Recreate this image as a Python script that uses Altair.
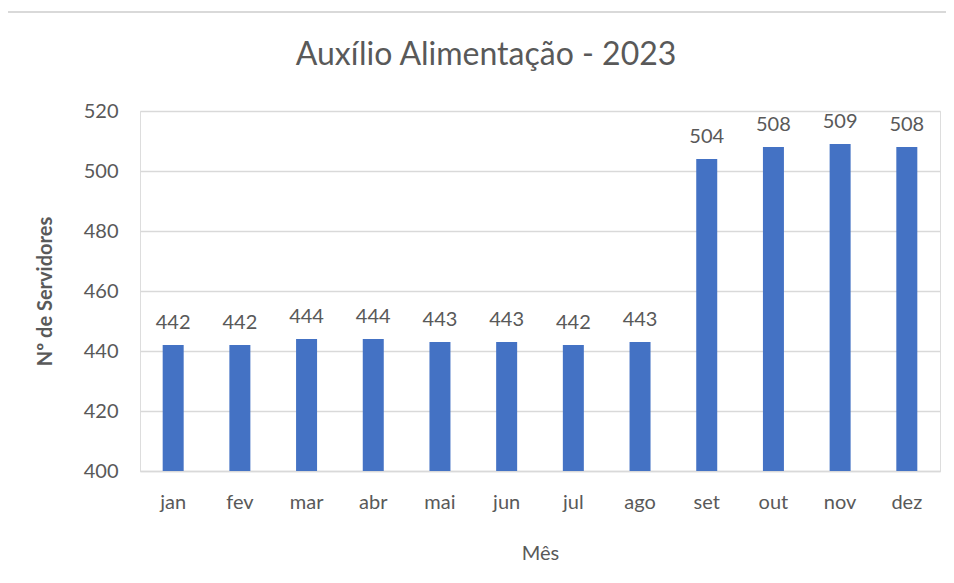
import altair as alt
import pandas as pd

meses = ["jan", "fev", "mar", "abr", "mai", "jun", "jul", "ago", "set", "out", "nov", "dez"]
servidores = [442, 442, 444, 444, 443, 443, 442, 443, 504, 508, 509, 508]
y_ticks = [400, 420, 440, 460, 480, 500, 520]
titulo = "Auxílio Alimentação - 2023"

df = pd.DataFrame({"Mês": meses, "Servidores": servidores})

FONT = "Lato"
GRAY = "#595959"

x_enc = alt.X("Mês:N", sort=meses, title="Mês",
              scale=alt.Scale(paddingInner=0.685, paddingOuter=0.34),
              axis=alt.Axis(labelAngle=0, labelFontSize=20, labelColor=GRAY, labelFont=FONT,
                            labelPadding=21, ticks=False, domain=True, domainColor="#d9d9d9",
                            domainWidth=1.5,
                            titleFontSize=20, titleColor=GRAY, titleFont=FONT,
                            titleFontWeight="normal", titlePadding=31))
y_enc = alt.Y("Servidores:Q", title="Nº de Servidores",
              scale=alt.Scale(domain=[400, 520], nice=False, zero=False),
              axis=alt.Axis(values=y_ticks, labelFontSize=20, labelColor=GRAY, labelFont=FONT,
                            labelPadding=22, ticks=False, domain=False,
                            gridColor="#d9d9d9", gridWidth=1.5,
                            titleFontSize=20, titleColor=GRAY, titleFont=FONT,
                            titleFontWeight="bold", titlePadding=28))

bars = alt.Chart(df).mark_bar(color="#4472C4", size=21).encode(
    x=x_enc, y=y_enc, y2=alt.datum(400))

labels = alt.Chart(df).mark_text(baseline="bottom", dy=-12, fontSize=20, color=GRAY, font=FONT).encode(
    x=alt.X("Mês:N", sort=meses), y="Servidores:Q", text="Servidores:Q")

border = alt.Chart(df).mark_rect(filled=False, stroke="#d9d9d9", strokeWidth=2, clip=False).encode(
    x=alt.value(-133), x2=alt.value(900), y=alt.value(-99), y2=alt.value(600))

title_df = pd.DataFrame({"t": [titulo]})
title_mark = alt.Chart(title_df).mark_text(fontSize=32, color=GRAY, font=FONT, baseline="alphabetic",
                                           align="center").encode(
    text="t:N", x=alt.value(346), y=alt.value(-46))

chart = alt.layer(border, bars, labels, title_mark).properties(
    width=800, height=360,
    padding={"left": 132, "top": 103, "right": 6, "bottom": 104},
    autosize=alt.AutoSizeParams(type="none"),
).configure_view(stroke=None).configure(background="white")

chart.save("out.html", embed_options={"renderer": "svg", "actions": False})
